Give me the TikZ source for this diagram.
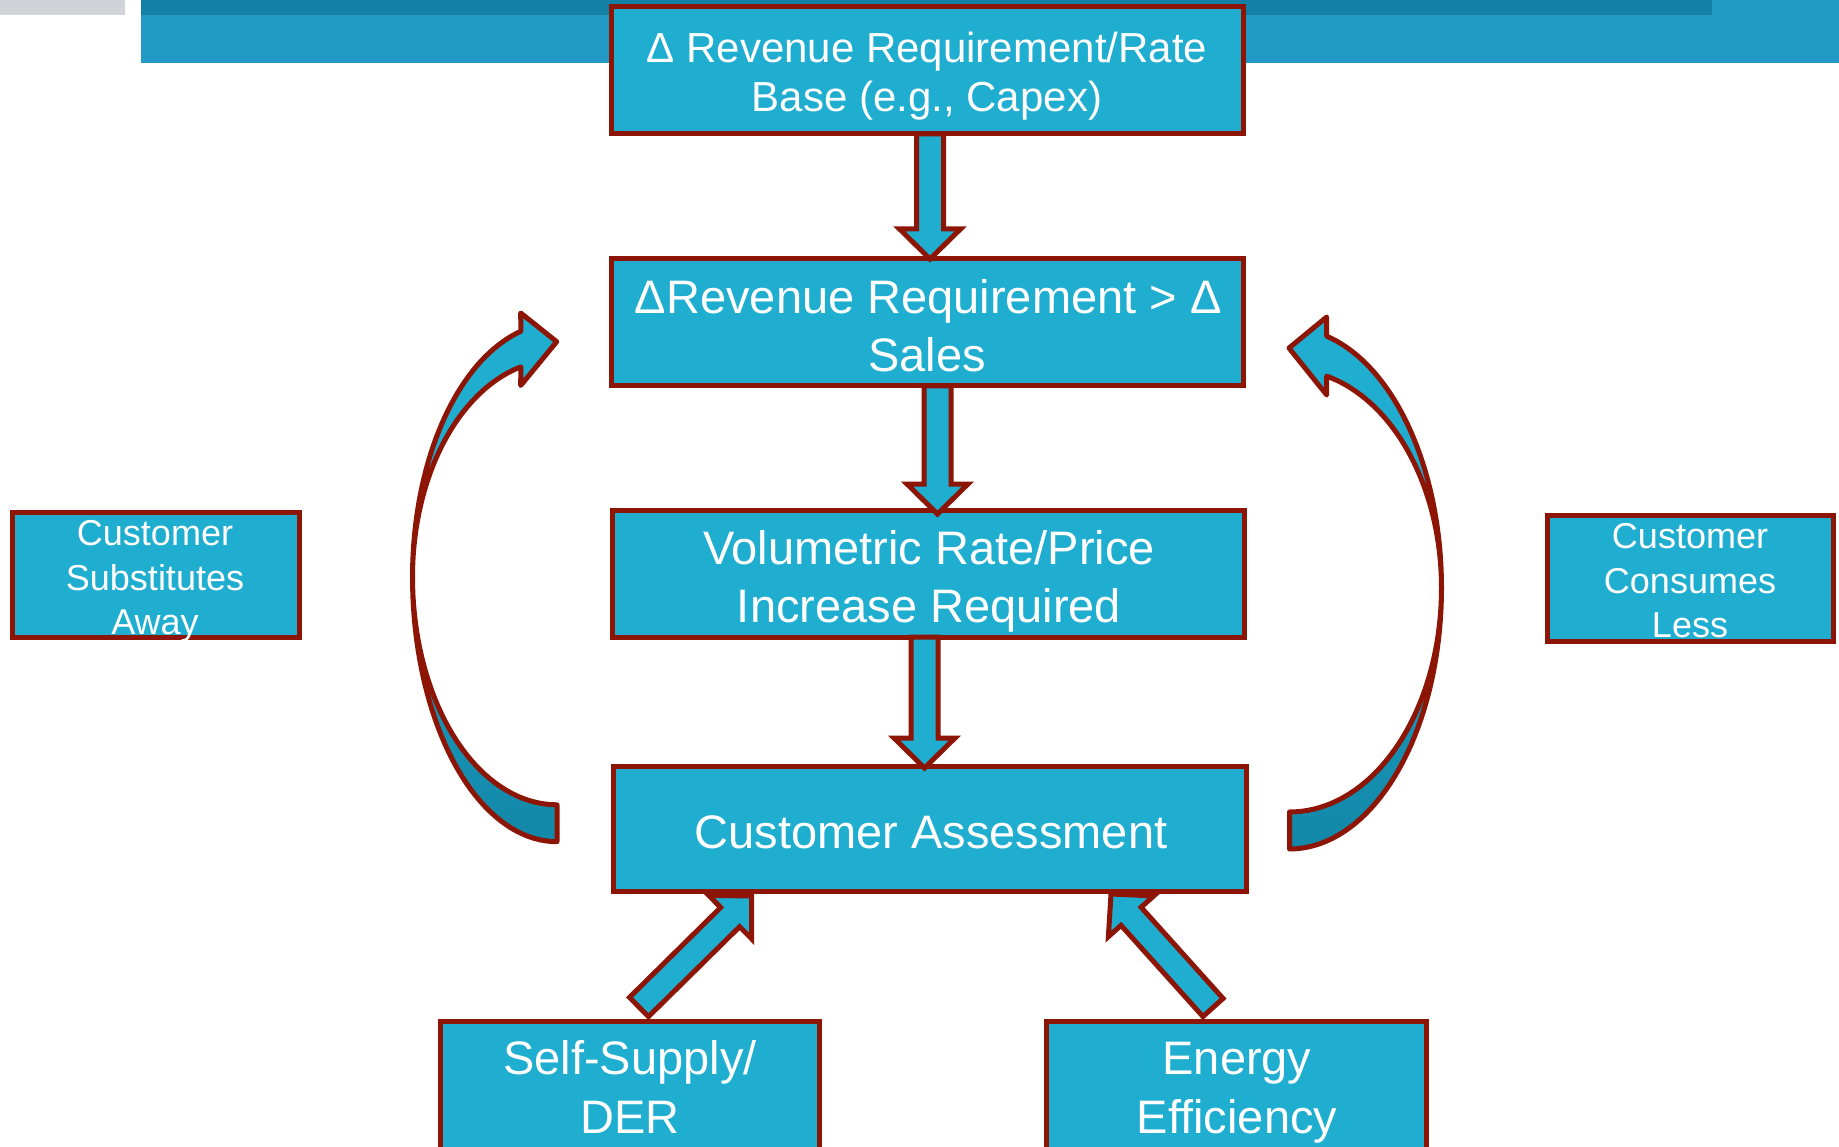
\documentclass[tikz,border=0pt]{standalone}
\usepackage{fontspec}
\setmainfont{Liberation Sans}
\usetikzlibrary{calc}

\definecolor{boxfill}{HTML}{1FADD0}
\definecolor{edgered}{HTML}{8C1505}
\definecolor{backtop}{HTML}{1A9CC0}
\definecolor{backbottom}{HTML}{1388A8}
\definecolor{bandlight}{HTML}{2199C4}
\definecolor{banddark}{HTML}{1380A6}
\definecolor{bandgray}{HTML}{D0D3D8}

% block arrow dimensions: half shaft width, half head width, head length
\newcommand*\bashaft{13.5pt}
\newcommand*\bahead{30.5pt}
\newcommand*\balen{30pt}
% block arrow from #1 to #2 (tip at #2)
\newcommand\blockarrow[2]{%
  \path ($(#2)!\balen!(#1)$) coordinate (abase);
  \draw[barrow] ($(#1)!\bashaft!90:(#2)$) -- ($(abase)!\bashaft!90:(#2)$)
    -- ($(abase)!\bahead!90:(#2)$) -- (#2) -- ($(abase)!\bahead!-90:(#2)$)
    -- ($(abase)!\bashaft!-90:(#2)$) -- ($(#1)!\bashaft!-90:(#2)$) -- cycle;
}

\begin{document}
\begin{tikzpicture}[x=1pt,y=-1pt,
  box/.style={draw=edgered, fill=boxfill, line width=5pt, inner sep=0pt, outer sep=0pt},
  barrow/.style={draw=edgered, fill=boxfill, line width=5pt, line join=miter},
  frontface/.style={draw=edgered, fill=boxfill, line width=5pt, line join=round},
  backface/.style={draw=edgered, line width=5pt, line join=round, top color=backtop, bottom color=backbottom},
  txtbase/.style={text=white, inner sep=0pt, anchor=base},
  bigtxt/.style={txtbase, font=\fontsize{47}{56}\selectfont},
  midtxt/.style={txtbase, font=\fontsize{42}{50}\selectfont},
  smalltxt/.style={txtbase, font=\fontsize{36}{44}\selectfont}]

\useasboundingbox (0,0) rectangle (1839,1147);
\begin{scope}
\clip (0,0) rectangle (1839,1147);

% header band
\fill[bandgray] (0,0) rectangle (125,15);
\fill[bandlight] (141,0) rectangle (1839,63);
\fill[banddark] (141,0) rectangle (1712,15);

% left feedback loop
\path[backface] (412.5,577)
  -- plot[domain=180:90, samples=40] ({557+144.5*cos(\x)},{577+264.7*sin(\x)})
  -- (557,804.8)
  -- plot[domain=90:180, samples=40] ({557+144.5*cos(\x)},{577+227.8*sin(\x)})
  -- cycle;
\path[frontface] (412.5,577)
  -- plot[domain=180:255.5, samples=40] ({557+144.5*cos(\x)},{577+253.8*sin(\x)})
  -- (520.7,313) -- (556.7,341.7) -- (520.7,385.5)
  -- plot[domain=255.5:180, samples=40] ({557+144.5*cos(\x)},{577+217.1*sin(\x)})
  -- cycle;

% right feedback loop
\path[backface] (1441.5,588)
  -- plot[domain=0:90, samples=40] ({1289.5+152*cos(\x)},{588+261*sin(\x)})
  -- (1289.5,812)
  -- plot[domain=90:0, samples=40] ({1289.5+152*cos(\x)},{588+224*sin(\x)})
  -- cycle;
\path[frontface] (1441.5,588)
  -- plot[domain=360:284.16, samples=40] ({1289.5+152*cos(\x)},{588+259.7*sin(\x)})
  -- (1326.7,317) -- (1289,348) -- (1326.7,395)
  -- plot[domain=284.16:360, samples=40] ({1289.5+152*cos(\x)},{588+218.5*sin(\x)})
  -- cycle;

% boxes
\node[box, minimum width=632pt, minimum height=127pt] (capex) at (927,70.5) {};
\node[box, minimum width=632pt, minimum height=127pt] (sales) at (927,322.5) {};
\node[box, minimum width=632pt, minimum height=127pt] (price) at (928,573.5) {};
\node[box, minimum width=633pt, minimum height=125pt] (assess) at (929.5,828.5) {};
\node[box, minimum width=287pt, minimum height=125pt] (subst) at (155.5,574.5) {};
\node[box, minimum width=286pt, minimum height=126pt] (less) at (1690,578) {};
\node[box, minimum width=379pt, minimum height=149pt] (der) at (629.5,1095.5) {};
\node[box, minimum width=380pt, minimum height=149pt] (effic) at (1236,1095.5) {};

% arrow end points
\coordinate (a1s) at ($(capex.south)+(3,0)$);
\coordinate (a1e) at ($(sales.north)+(3,0)$);
\coordinate (a2s) at ($(sales.south)+(10.5,0)$);
\coordinate (a2e) at ($(price.north)+(9.5,4)$);
\coordinate (a3s) at ($(price.south)+(-3.5,0)$);
\coordinate (a3e) at ($(assess.north)+(-5,2)$);
\coordinate (d1s) at ($(der.north)+(9.5,-14)$);
\coordinate (d1e) at ($(assess.south)+(-178,5)$);
\coordinate (d2s) at ($(effic.north)+(-23,-13.5)$);
\coordinate (d2e) at ($(assess.south)+(181.5,3)$);

% block arrows
\blockarrow{a1s}{a1e}
\blockarrow{a2s}{a2e}
\blockarrow{a3s}{a3e}
\blockarrow{d1s}{d1e}
\blockarrow{d2s}{d2e}

% texts
\node[midtxt] (capex1) at (927,63) {Δ Revenue Requirement/Rate};
\node[midtxt] (capex2) at (927,112) {Base (e.g., Capex)};
\node[bigtxt] (sales1) at (928.3,314) {ΔRevenue Requirement > Δ};
\node[bigtxt] (sales2) at (927,372) {Sales};
\node[bigtxt] (price1) at (929,564) {Volumetric Rate/Price};
\node[bigtxt] (price2) at (929,622) {Increase Required};
\node[bigtxt] (assess1) at (931,848) {Customer Assessment};
\node[smalltxt] (subst1) at (155,545) {Customer};
\node[smalltxt] (subst2) at (155,590) {Substitutes};
\node[smalltxt] (subst3) at (155,634) {Away};
\node[smalltxt] (less1) at (1690,548.5) {Customer};
\node[smalltxt] (less2) at (1690,593.5) {Consumes};
\node[smalltxt] (less3) at (1690,637.5) {Less};
\node[bigtxt] (der1) at (630,1074.5) {Self-Supply/};
\node[bigtxt] (der2) at (630,1133) {DER};
\node[bigtxt] (effic1) at (1237,1074.5) {Energy};
\node[bigtxt] (effic2) at (1237,1133) {Efficiency};
\end{scope}
\end{tikzpicture}
\end{document}
